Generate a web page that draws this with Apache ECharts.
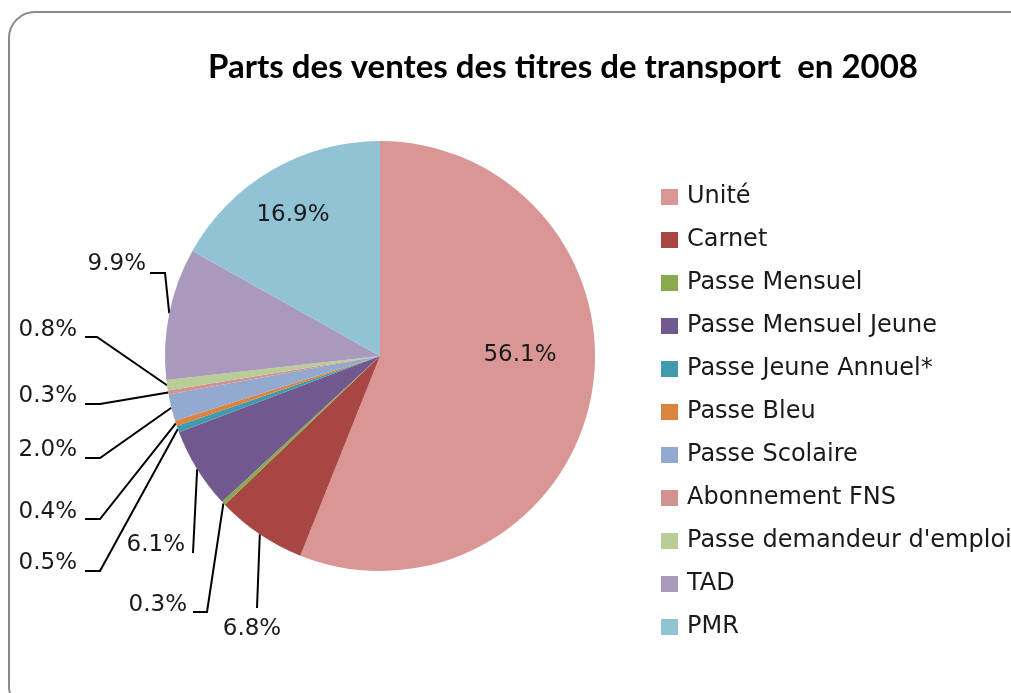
<!DOCTYPE html>
<html>
<head>
<meta charset="utf-8">
<script src="https://cdn.jsdelivr.net/npm/echarts@6/dist/echarts.min.js"></script>
<style>
  html, body { margin: 0; padding: 0; background: #fff; }
  #chart { width: 1011px; height: 693px; }
</style>
</head>
<body>
<div id="chart"></div>
<script>
// categories and shares (%), in drawing order, clockwise from 12 o'clock
var titres = ['Unité', 'Carnet', 'Passe Mensuel', 'Passe Mensuel Jeune', 'Passe Jeune Annuel*',
  'Passe Bleu', 'Passe Scolaire', 'Abonnement FNS', "Passe demandeur d'emploi", 'TAD', 'PMR']
var parts = [56.1, 6.8, 0.3, 6.1, 0.5, 0.4, 2.0, 0.3, 0.8, 9.9, 16.9]
var couleurs = ['#D99694', '#A84644', '#8BAA4F', '#71598F', '#4399AF',
  '#DB843D', '#93A9D0', '#D19392', '#B9CD97', '#A99ABD', '#92C3D4']

// where Excel put each percentage label, and the bends of its leader line
var labelSpots = {
  'Unité': { x: 520, y: 355, align: 'center' },
  'PMR': { x: 293, y: 215, align: 'center' },
  'TAD': { x: 146, y: 264, align: 'right', guide: [[165, 273], [150, 273]] },
  "Passe demandeur d'emploi": { x: 77, y: 330, align: 'right', guide: [[97, 337], [85, 337]] },
  'Abonnement FNS': { x: 77, y: 396, align: 'right', guide: [[100, 404], [85, 404]] },
  'Passe Scolaire': { x: 77, y: 450, align: 'right', guide: [[100, 458], [85, 458]] },
  'Passe Bleu': { x: 77, y: 512, align: 'right', guide: [[100, 519], [85, 519]] },
  'Passe Jeune Annuel*': { x: 77, y: 563, align: 'right', guide: [[100, 571], [85, 571]] },
  'Passe Mensuel Jeune': { x: 185, y: 545, align: 'right', guide: [[193, 553]] },
  'Passe Mensuel': { x: 187, y: 605, align: 'right', guide: [[207, 612], [193, 612]] },
  'Carnet': { x: 252, y: 629, align: 'center', guide: [[257, 608]] }
}

var FONT = '"DejaVu Sans"'
var chart = echarts.init(document.getElementById('chart'), null, { renderer: 'canvas' })

var pieData = titres.map(function (name, i) {
  var inside = name === 'Unité' || name === 'PMR'
  return {
    name: name,
    value: parts[i],
    itemStyle: { color: couleurs[i] },
    label: { position: inside ? 'inside' : 'outside' },
    labelLine: { show: !inside }
  }
})

chart.setOption({
  backgroundColor: '#fff',
  animation: false,
  graphic: [
    {
      type: 'rect',
      shape: { x: 9, y: 12, width: 1040, height: 700, r: 26 },
      style: { fill: 'none', stroke: '#8a8a8a', lineWidth: 2 },
      silent: true
    },
    {
      type: 'text',
      x: 563,
      y: 67,
      style: {
        text: 'Parts des ventes des titres de transport  en 2008',
        font: 'bold 33px Lato',
        fill: '#000',
        textAlign: 'center',
        textVerticalAlign: 'middle'
      }
    }
  ],
  legend: {
    orient: 'vertical',
    left: 656,
    top: 180,
    icon: 'rect',
    itemWidth: 17,
    itemHeight: 16,
    itemGap: 19,
    data: titres,
    textStyle: {
      fontFamily: FONT,
      fontSize: 24,
      lineHeight: 24,
      color: '#1a1a1a',
      padding: [0, 0, 0, 4]
    }
  },
  series: [{
    type: 'pie',
    center: [380, 356],
    radius: 215,
    startAngle: 90,
    clockwise: true,
    avoidLabelOverlap: false,
    itemStyle: { borderWidth: 0 },
    emphasis: { disabled: true },
    label: {
      fontFamily: FONT,
      fontSize: 23,
      color: '#1a1a1a',
      formatter: function (p) {
        return p.value.toFixed(1) + '%'
      }
    },
    labelLine: {
      lineStyle: { color: '#000', width: 2 }
    },
    labelLayout: function (params) {
      var spot = labelSpots[titres[params.dataIndex]]
      if (!spot) {
        return {}
      }
      var out = { x: spot.x, y: spot.y, align: spot.align, verticalAlign: 'middle' }
      if (spot.guide && params.labelLinePoints) {
        out.labelLinePoints = [params.labelLinePoints[0]].concat(spot.guide)
      }
      return out
    },
    data: pieData
  }]
})
</script>
</body>
</html>
